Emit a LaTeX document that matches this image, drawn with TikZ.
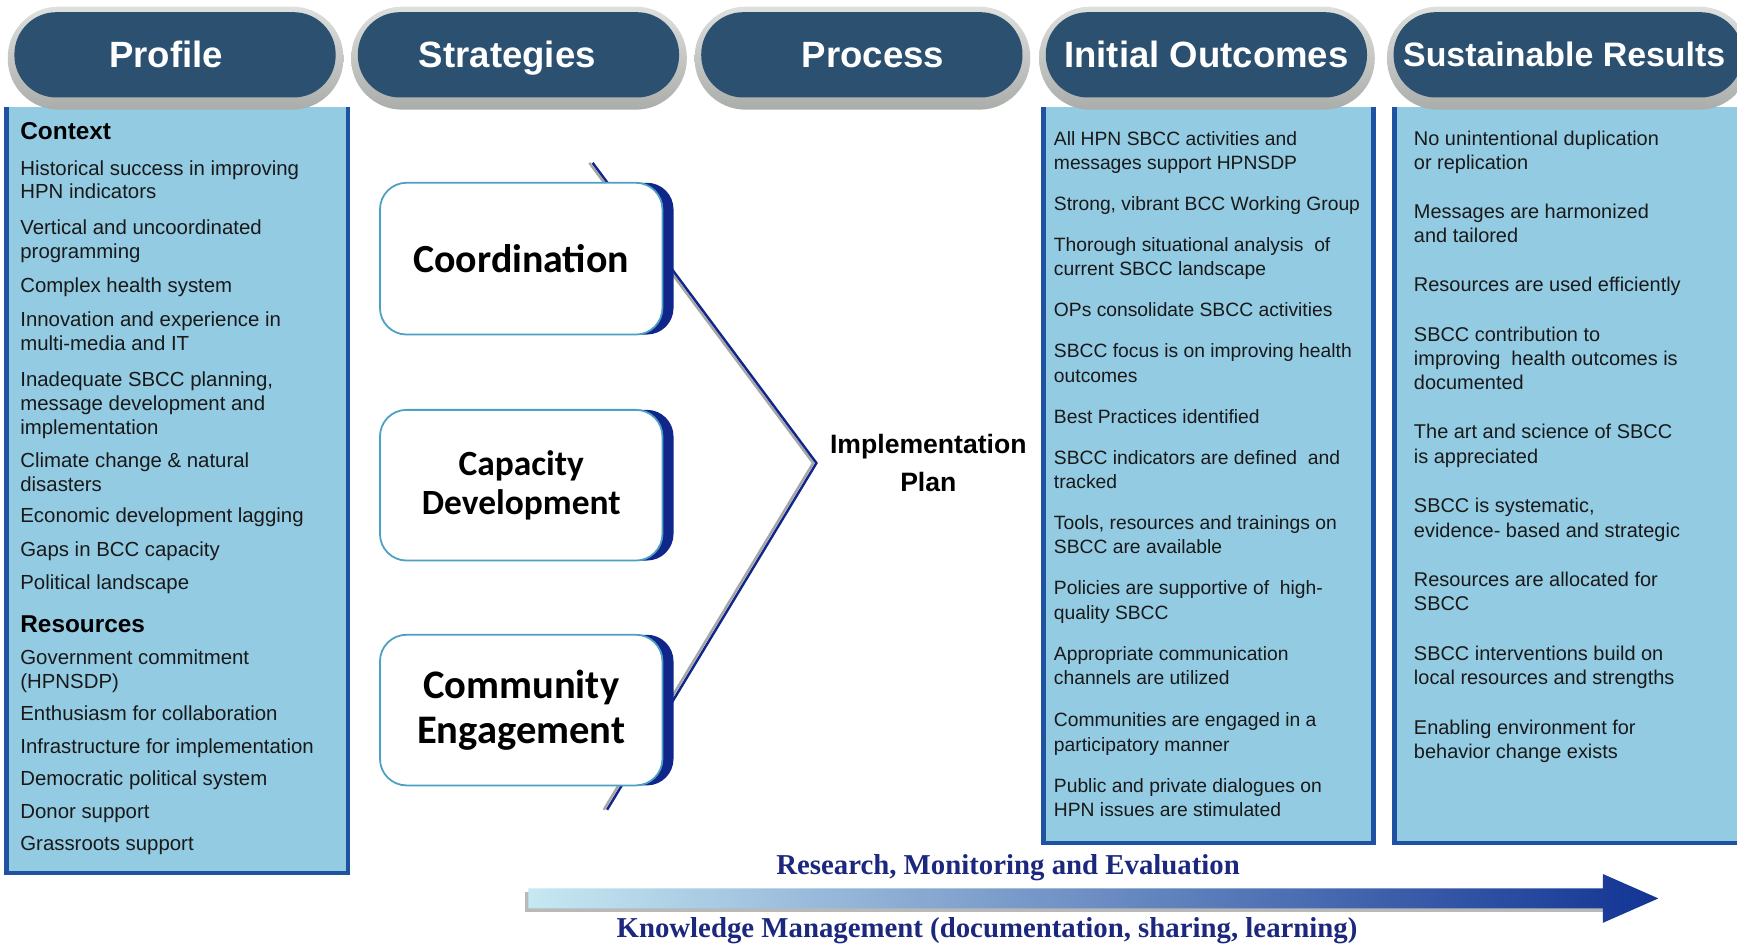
\documentclass[tikz,border=0pt]{standalone}
\usepackage{fontspec}
\setmainfont{Liberation Sans}
\newfontfamily\carl{Carlito}
\newfontfamily\tnr{Liberation Serif}
\definecolor{pillbg}{RGB}{44,80,112}
\definecolor{rimlight}{RGB}{222,224,222}
\definecolor{rimdark}{RGB}{170,173,170}
\definecolor{panel}{RGB}{147,203,227}
\definecolor{pborder}{RGB}{32,82,162}
\definecolor{navy}{RGB}{16,38,138}
\definecolor{tealb}{RGB}{75,160,195}
\definecolor{txt}{RGB}{25,25,25}
\definecolor{kmblue}{RGB}{28,40,125}
\definecolor{arrlight}{RGB}{198,232,242}
\definecolor{arrdark}{RGB}{18,52,148}
\newcommand\vl[1]{\hbox{#1}}
\tikzset{
  itemL/.style={anchor=base west,inner sep=0pt,text=txt,font=\fontsize{9.2}{10.8}\selectfont},
  itemI/.style={anchor=base west,inner sep=0pt,text=txt,font=\fontsize{8.7}{11}\selectfont},
  itemS/.style={anchor=base west,inner sep=0pt,text=txt,font=\fontsize{9}{11}\selectfont},
  headL/.style={anchor=base west,inner sep=0pt,text=black,font=\fontsize{11}{13}\selectfont\bfseries},
  pilltext/.style={anchor=base,inner sep=0pt,text=white,font=\fontsize{16.5}{18}\selectfont\bfseries},
  sbox/.style={draw=tealb,line width=0.8pt,fill=white,rounded corners=12pt,align=center,inner sep=0pt,font=\carl\bfseries},
  chev/.style={line width=1.1pt,navy},
  chevsh/.style={line width=1.1pt,gray!70},
}
\newcommand\pill[2]{%
  \shade[top color=rimlight,bottom color=rimdark,rounded corners=23pt] (#1,6) rectangle (#2,99);
  \fill[pillbg,rounded corners=19pt] (#1+6,11) rectangle (#2-7,88);
}
\begin{document}
\begin{tikzpicture}[x=0.5pt,y=-0.5pt]
\useasboundingbox (0,0) rectangle (1568,854);
\fill[white] (0,0) rectangle (1568,854);
% panels
\fill[panel] (4,97) rectangle (316,790);
\draw[pborder,line width=2pt] (6,97) -- (6,788) -- (314,788) -- (314,97);
\fill[panel] (940,97) rectangle (1242,763);
\draw[pborder,line width=2pt] (942,97) -- (942,761) -- (1240,761) -- (1240,97);
\fill[panel] (1257,97) rectangle (1580,763);
\draw[pborder,line width=2pt] (1259,97) -- (1259,761) -- (1580,761);
% header pills
\pill{7}{310}
\pill{317}{620}
\pill{627}{930}
\pill{938}{1241}
\pill{1252}{1580}
\node[pilltext] (h1) at (150,61) {Profile};
\node[pilltext] (h2) at (458,61) {Strategies};
\node[pilltext] (h3) at (788,61) {Process};
\node[pilltext] (h4) at (1089,61) {Initial Outcomes};
\node[pilltext,font=\fontsize{15.3}{18}\selectfont\bfseries] (h5) at (1412,60) {Sustainable Results};
% left column
\node[headL] (ctx) at (18,126) {Context};
\node[itemL] (l1) at (18,158) {\vtop{\vl{Historical success in improving}\vl{HPN indicators}}};
\node[itemL] (l2) at (18,212) {\vtop{\vl{Vertical and uncoordinated}\vl{programming}}};
\node[itemL] (l3) at (18,264) {Complex health system};
\node[itemL] (l4) at (18,295) {\vtop{\vl{Innovation and experience in}\vl{multi-media and IT}}};
\node[itemL] (l5) at (18,349) {\vtop{\vl{Inadequate SBCC planning,}\vl{message development and}\vl{implementation}}};
\node[itemL] (l6) at (18,422) {\vtop{\vl{Climate change \& natural}\vl{disasters}}};
\node[itemL] (l7) at (18,472) {Economic development lagging};
\node[itemL] (l8) at (18,502) {Gaps in BCC capacity};
\node[itemL] (l9) at (18,532) {Political landscape};
\node[headL] (res) at (18,571) {Resources};
\node[itemL] (r1) at (18,600) {\vtop{\vl{Government commitment}\vl{(HPNSDP)}}};
\node[itemL] (r2) at (18,650) {Enthusiasm for collaboration};
\node[itemL] (r3) at (18,680) {Infrastructure for implementation};
\node[itemL] (r4) at (18,709) {Democratic political system};
\node[itemL] (r5) at (18,739) {Donor support};
\node[itemL] (r6) at (18,768) {Grassroots support};
% initial outcomes
\node[itemI] (i1) at (951,131) {\vtop{\vl{All HPN SBCC activities and}\vl{messages support HPNSDP}}};
\node[itemI] (i2) at (951,190) {Strong, vibrant BCC Working Group};
\node[itemI] (i3) at (951,227) {\vtop{\vl{Thorough situational analysis\ \ of}\vl{current SBCC landscape}}};
\node[itemI] (i4) at (951,286) {OPs consolidate SBCC activities};
\node[itemI] (i5) at (951,323) {\vtop{\vl{SBCC focus is on improving health}\vl{outcomes}}};
\node[itemI] (i6) at (951,382) {Best Practices identified};
\node[itemI] (i7) at (951,419) {\vtop{\vl{SBCC indicators are defined\ \ and}\vl{tracked}}};
\node[itemI] (i8) at (951,478) {\vtop{\vl{Tools, resources and trainings on}\vl{SBCC are available}}};
\node[itemI] (i9) at (951,537) {\vtop{\vl{Policies are supportive of\ \ high-}\vl{quality SBCC}}};
\node[itemI] (i10) at (951,596) {\vtop{\vl{Appropriate communication}\vl{channels are utilized}}};
\node[itemI] (i11) at (951,656) {\vtop{\vl{Communities are engaged in a}\vl{participatory manner}}};
\node[itemI] (i12) at (951,715) {\vtop{\vl{Public and private dialogues on}\vl{HPN issues are stimulated}}};
% sustainable results
\node[itemS] (s1) at (1276,131) {\vtop{\vl{No unintentional duplication}\vl{or replication}}};
\node[itemS] (s2) at (1276,197) {\vtop{\vl{Messages are harmonized}\vl{and tailored}}};
\node[itemS] (s3) at (1276,263) {Resources are used efficiently};
\node[itemS] (s4) at (1276,308) {\vtop{\vl{SBCC contribution to}\vl{improving\ \ health outcomes is}\vl{documented}}};
\node[itemS] (s5) at (1276,396) {\vtop{\vl{The art and science of SBCC}\vl{is appreciated}}};
\node[itemS] (s6) at (1276,463) {\vtop{\vl{SBCC is systematic,}\vl{evidence- based and strategic}}};
\node[itemS] (s7) at (1276,529) {\vtop{\vl{Resources are allocated for}\vl{SBCC}}};
\node[itemS] (s8) at (1276,596) {\vtop{\vl{SBCC interventions build on}\vl{local resources and strengths}}};
\node[itemS] (s9) at (1276,663) {\vtop{\vl{Enabling environment for}\vl{behavior change exists}}};
% chevron
\coordinate (ctop) at (535,147);
\coordinate (apex) at (737,418);
\coordinate (cbot) at (548,731);
\draw[chevsh] ([xshift=-1.5pt]ctop) -- ([xshift=-1.5pt]apex) -- ([xshift=-1.5pt]cbot);
\draw[chev] (ctop) -- (apex) -- (cbot);
% strategy boxes
\fill[navy,rounded corners=12pt] (353,165) rectangle (608,302);
\node[sbox,minimum width=127.5pt,minimum height=68.5pt,font=\fontsize{18}{20}\selectfont\carl\bfseries] (coord) at (470.5,233.5) {Coordination};
\fill[navy,rounded corners=12pt] (353,370) rectangle (608,506);
\node[sbox,minimum width=127.5pt,minimum height=68pt,font=\fontsize{16}{17.5}\selectfont\carl\bfseries] (capdev) at (470.5,438) {Capacity\\Development};
\fill[navy,rounded corners=12pt] (353,573) rectangle (608,709);
\node[sbox,minimum width=127.5pt,minimum height=68pt,font=\fontsize{18.3}{20}\selectfont\carl\bfseries] (comm) at (470.5,641) {Community\\Engagement};
\node[align=center,inner sep=0pt,font=\fontsize{12}{17.5}\selectfont\bfseries] (impl) at (838,418) {Implementation\\Plan};
% bottom arrow
\fill[gray!55] (474,805) rectangle (1447,823);
\shade[left color=arrlight,right color=arrdark] (477,802) -- (1447,802) -- (1447,789) -- (1497,811) -- (1447,833) -- (1447,820) -- (477,820) -- cycle;
\node[inner sep=0pt,text=kmblue,font=\fontsize{13}{15}\selectfont\tnr\bfseries] (rme) at (910,783) {Research, Monitoring and Evaluation};
\node[inner sep=0pt,text=kmblue,font=\fontsize{13}{15}\selectfont\tnr\bfseries] (km) at (891,840) {Knowledge Management (documentation, sharing, learning)};
\end{tikzpicture}
\end{document}
